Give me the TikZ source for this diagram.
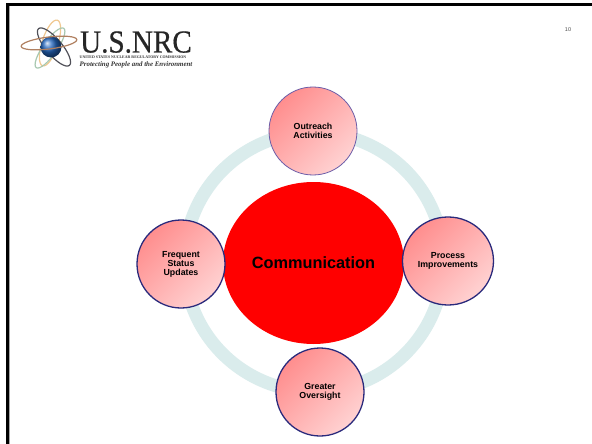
\documentclass[tikz,border=0pt]{standalone}
\usepackage{fontspec}
\setmainfont{Liberation Sans}
\newfontfamily\logofont{Liberation Serif}
\newfontfamily\logoheavy[FakeBold=0.6]{Liberation Serif}
\usetikzlibrary{shapes.geometric}
\definecolor{ringc}{HTML}{DAECEC}
\definecolor{navyc}{HTML}{2A2A7C}
\definecolor{purplec}{HTML}{6A5CA8}
\definecolor{pinkA}{HTML}{FF8E8E}
\definecolor{pinkB}{HTML}{FFD2D2}
\definecolor{orbitO}{HTML}{F0C890}
\definecolor{orbitG}{HTML}{A8C8B0}
\definecolor{orbitB}{HTML}{B08060}
\definecolor{orbitD}{HTML}{505058}
\definecolor{sphereC}{HTML}{2468C0}
\tikzset{
  x=1pt,y=-1pt,
  topic/.style={ellipse,draw=navyc,line width=1.3pt,top color=pinkA,bottom color=pinkB,shading angle=45,
    minimum width=88pt,minimum height=88pt,inner sep=0pt,align=center,text=black,
    font=\fontsize{8.8pt}{9pt}\selectfont\bfseries},
  orbit/.style={line width=1.2pt,line cap=round}
}
\begin{document}
\begin{tikzpicture}
\useasboundingbox (0,0) rectangle (592,444);
\fill[white] (0,0) rectangle (592,444);
% frame
\fill[gray!70] (9,6) rectangle (10,444);
\fill[black] (6,3) rectangle (592,6);
\fill[black] (6,3) rectangle (9,444);
% ring
\draw[ringc,line width=13pt] (314,262) circle[radius=129.5];
% centre
\node[ellipse,fill=red,minimum width=181pt,minimum height=162pt,inner sep=0pt,
  font=\fontsize{16.3pt}{18pt}\selectfont\bfseries] (comm) at (313.5,263) {Communication};
% topics
\node[topic,draw=purplec,line width=0.8pt] (outreach) at (313,131) {Outreach\\Activities};
\node[topic,minimum width=91pt] (process) at (448,261) {Process\\Improvements};
\node[topic] (greater) at (320,392) {Greater\\Oversight};
\node[topic] (frequent) at (181,264) {Frequent\\Status\\Updates};
% page number
\node[text=black!70,font=\fontsize{5.5pt}{6pt}\selectfont] (pagenum) at (568,29.5) {10};
% logo atom
\draw[orbit,orbitO,rotate around={72:(50,43)}] (50,43) ellipse[x radius=24,y radius=8];
\draw[orbit,orbitG,rotate around={55:(50,48)}] (50,48) ellipse[x radius=24,y radius=7];
\draw[orbit,orbitD,rotate around={-50:(54,47)}] (54,47) ellipse[x radius=24,y radius=8];
\shade[ball color=sphereC] (51,47) circle[radius=10.5];
\draw[orbit,orbitB,rotate around={7:(49,43)}] (49,43) ellipse[x radius=28,y radius=6];
% logo text
\node[anchor=base west,inner sep=0pt,font=\logoheavy\fontsize{32pt}{32pt}\selectfont,xscale=0.91,text=black!85] (nrc) at (80,52.5) {U.S.NRC};
\node[anchor=base west,inner sep=0pt,font=\logofont\fontsize{3.9pt}{4pt}\selectfont\bfseries,text=black!80] (agency) at (79.5,59) {UNITED STATES NUCLEAR REGULATORY COMMISSION};
\node[anchor=base west,inner sep=0pt,font=\logofont\fontsize{6.9pt}{7pt}\selectfont\bfseries\itshape,text=black!80] (motto) at (79.5,66.5) {Protecting People and the Environment};
\end{tikzpicture}
\end{document}
